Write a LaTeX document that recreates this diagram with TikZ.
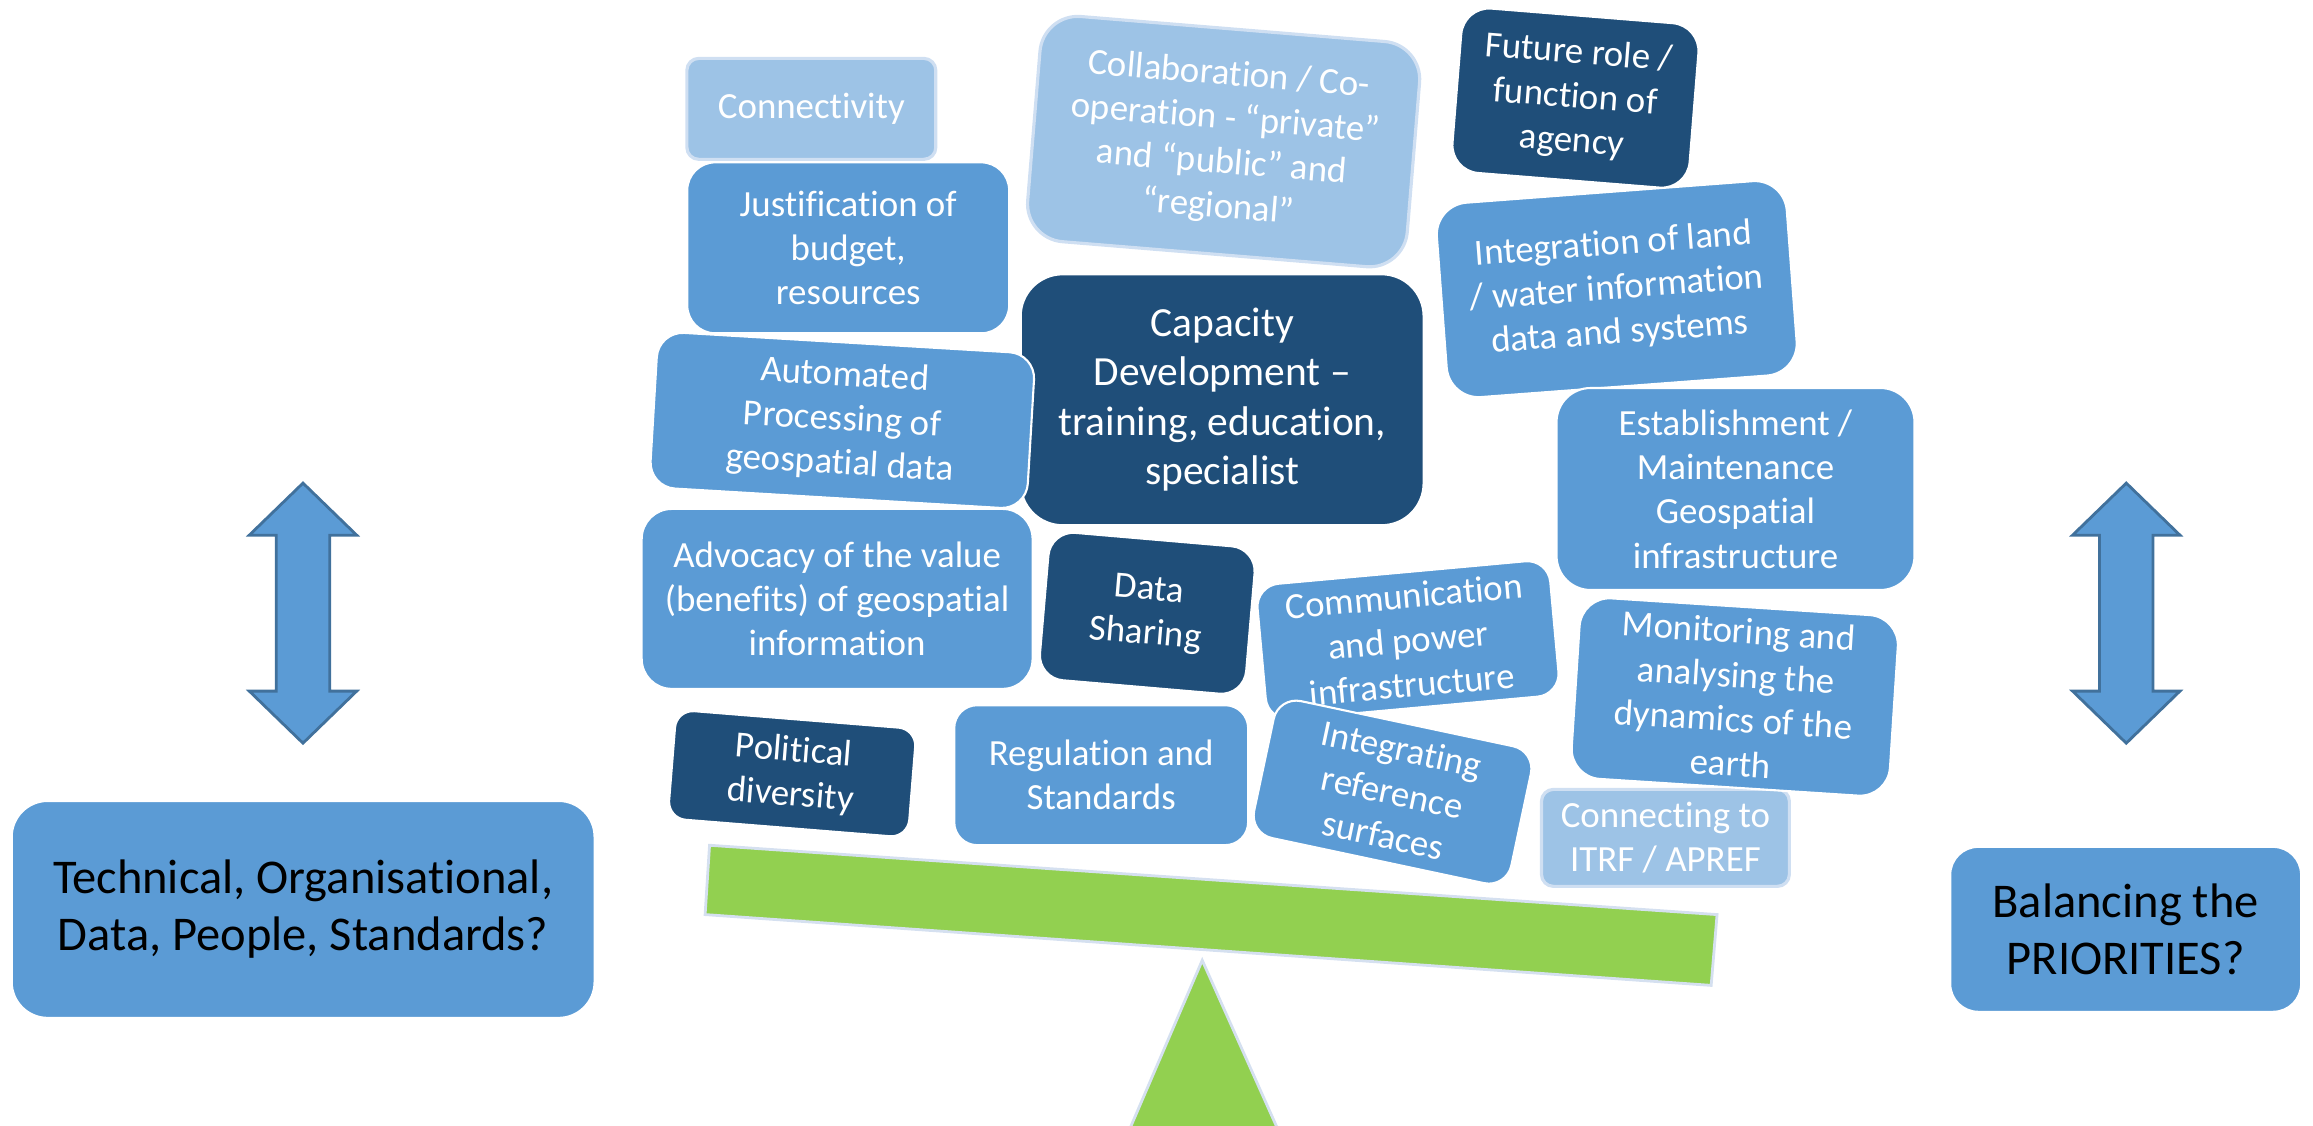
\documentclass[tikz,border=0pt]{standalone}
\usepackage{fontspec}
\setmainfont{Carlito}[Ligatures={NoCommon,NoContextual}, Contextuals=NoAlternate]
\definecolor{tilemid}{HTML}{5B9BD5}
\definecolor{tiledark}{HTML}{1F4E79}
\definecolor{tilelight}{HTML}{9DC3E6}
\definecolor{tileedge}{HTML}{CFDFF2}
\definecolor{beamgreen}{HTML}{92D050}
\definecolor{beamedge}{HTML}{D5E0F0}
\definecolor{arrowline}{HTML}{41719C}

\tikzset{
  tile/.style={rectangle, rounded corners=0.28cm, draw=white, line width=0.6pt,
    text=white, align=center, inner sep=0pt, font=\fontsize{10.5}{12.6}\selectfont},
  midtile/.style={tile, fill=tilemid},
  darktile/.style={tile, fill=tiledark},
  lighttile/.style={tile, fill=tilelight, draw=tileedge, line width=0.9pt},
  bigtile/.style={tile, fill=tilemid, text=black, font=\fontsize{13.8}{16.2}\selectfont},
  boxsize/.style 2 args={minimum width=#1cm, minimum height=#2cm},
  beam/.style={fill=beamgreen, draw=beamedge, line width=0.8pt},
  updown/.style={fill=tilemid, draw=arrowline, line width=0.8pt, line join=miter},
}

\begin{document}
\begin{tikzpicture}[x=0.01475cm, y=-0.01475cm]
\useasboundingbox (0,0) rectangle (1568,763);

% seesaw
\draw[beam] (481,573) -- (1164,620) -- (1160,668) -- (478,620) -- cycle;
\draw[beam] (815,651) -- (866,765) -- (766,765) -- cycle;

% up/down arrows
\foreach \ax in {205.4,1441.4}
  \draw[updown] (\ax,327.5) -- (\ax+36.4,362.8) -- (\ax+18.1,362.8)
    -- (\ax+18.1,468.5) -- (\ax+36.4,468.5) -- (\ax,503.8)
    -- (\ax-36.4,468.5) -- (\ax-18.1,468.5) -- (\ax-18.1,362.8)
    -- (\ax-36.4,362.8) -- cycle;

% the pile of issues
\node[lighttile, boxsize={2.49}{1.01}, rounded corners=0.12cm] (conn) at (550,73.8) {Connectivity};
\node[midtile, boxsize={3.22}{1.71}] (just) at (575,168) {Justification of\\budget,\\resources};
\node[lighttile, boxsize={3.81}{2.26}, rounded corners=0.38cm, rotate=-4.7] (collab) at (829.5,96)
  {Collaboration / Co-\\operation - “private”\\and “public” and\\“regional”};
\node[darktile, boxsize={4.03}{2.51}, rounded corners=0.42cm, font=\fontsize{11.8}{14.1}\selectfont] (capac) at (828.5,271)
  {Capacity\\Development –\\training, education,\\specialist};
\node[midtile, boxsize={3.51}{1.95}, rounded corners=0.32cm, rotate=4.3] (integ) at (1096,196)
  {Integration of land\\/ water information\\data and systems};
\node[darktile, boxsize={2.38}{1.65}, rotate=-4.6] (future) at (1068,66.5) {Future role /\\function of\\agency};
\node[midtile, boxsize={3.78}{1.56}, rounded corners=0.26cm, rotate=-3.4] (autom) at (571,285)
  {Automated\\Processing of\\geospatial data};
\node[midtile, boxsize={3.58}{2.02}, rounded corners=0.34cm] (estab) at (1176.5,331.5)
  {Establishment /\\Maintenance\\Geospatial\\infrastructure};
\node[midtile, boxsize={3.91}{1.80}, rounded corners=0.30cm] (advoc) at (567.5,406)
  {Advocacy of the value\\(benefits) of geospatial\\information};
\node[darktile, boxsize={2.07}{1.48}, rounded corners=0.25cm, rotate=-4.9] (share) at (777.75,415.75) {Data\\Sharing};
\node[midtile, boxsize={2.94}{1.36}, rounded corners=0.23cm, rotate=5.2] (commu) at (954.5,434)
  {Communication\\and power\\infrastructure};
\node[lighttile, boxsize={2.48}{0.97}, rounded corners=0.12cm] (itrf) at (1129,568) {Connecting to\\ITRF / APREF};
\node[midtile, boxsize={3.19}{1.81}, rounded corners=0.30cm, rotate=-3.7] (monit) at (1176,472.5)
  {Monitoring and\\analysing the\\dynamics of the\\earth};
\node[darktile, boxsize={2.41}{1.09}, rounded corners=0.18cm, rotate=-4.6] (polit) at (537,524.5) {Political\\diversity};
\node[midtile, boxsize={2.94}{1.40}, rounded corners=0.23cm] (regul) at (746.5,525.5) {Regulation and\\Standards};
\node[midtile, boxsize={2.63}{1.40}, rounded corners=0.23cm, rotate=-12] (refsurf) at (944,537)
  {Integrating\\reference\\surfaces};

% questions at the sides
\node[bigtile, boxsize={5.83}{2.17}, rounded corners=0.36cm] (tech) at (205.5,616.5)
  {Technical, Organisational,\\Data, People, Standards?};
\node[bigtile, boxsize={3.51}{1.65}] (balan) at (1441,630) {Balancing the\\PRIORITIES?};
\end{tikzpicture}
\end{document}
